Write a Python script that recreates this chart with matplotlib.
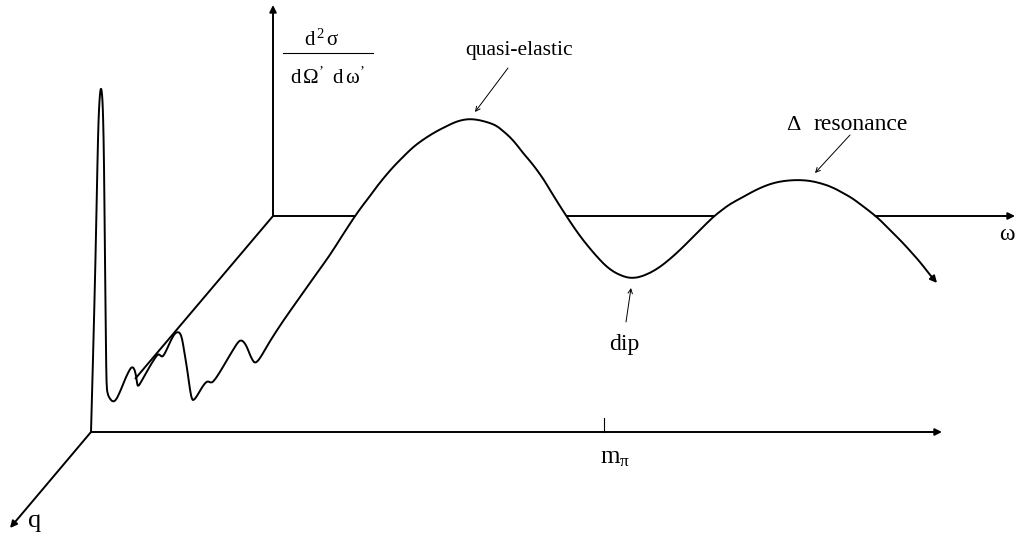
"""
Schematic inclusive electron scattering spectrum d2sigma/dOmega'dw' vs (omega, q)
"""

import numpy as np
import matplotlib.pyplot as plt
from matplotlib.path import Path
from matplotlib.patches import PathPatch

plt.rcParams['font.family'] = ['Liberation Serif', 'DejaVu Serif']
plt.rcParams['mathtext.fontset'] = 'custom'
plt.rcParams['mathtext.rm'] = 'Liberation Serif'
plt.rcParams['mathtext.it'] = 'Liberation Serif:italic'

# drawing units: x to the right, y downward (page-like)
W, H = 1018, 535

# front plane: origin of omega/q axes
FRONT_ORIGIN = (91, 432)
FRONT_OMEGA_TIP = (942, 432)
Q_TIP = (10, 528)

# back plane (curve baseline at larger q)
BACK_ORIGIN = (273, 216)
BACK_SIGMA_TIP = (273, 5)
BACK_OMEGA_TIP = (1015, 216)
FLOOR_START = (135, 379)

# m_pi tick on the front omega axis
M_PI_X = 604
M_PI_TICK = 14

# spectrum: elastic spike, nuclear levels, quasi-elastic, dip, Delta
SPECTRUM_X = [91, 93, 95.5, 97.5, 98.5, 99.5, 100.3, 101, 101.7, 102.5, 103.2,
              104, 105, 106, 106.5, 107.5, 110, 113, 116, 119, 122, 126, 130,
              132, 134, 136, 137, 138, 141, 145, 150, 155, 158, 160, 162, 164,
              167, 171, 175, 178, 180, 182, 184, 186, 188, 190, 192, 194, 197,
              201, 205, 208, 211, 214, 220, 227, 233, 238, 241, 244, 247, 250,
              253, 255, 258, 262,
              270, 283, 300, 317, 330, 342, 355, 363, 370, 378, 387, 395, 403,
              410, 417, 427, 437, 445, 453, 460, 468, 476, 483, 490, 497, 503,
              510, 517, 523, 530, 537, 544, 550, 558, 567, 575, 583, 592, 600,
              607, 614, 620, 627, 633, 640, 650, 660, 670, 680, 690, 700, 713,
              722, 730, 743, 752, 760, 770, 780, 790, 800, 810, 820, 832, 843,
              852, 860, 868, 878, 885, 893, 903, 912, 920, 927, 931]
SPECTRUM_Y = [432, 360, 260, 160, 120, 100, 91, 88, 91, 100, 120,
              160, 260, 350, 385, 394, 399, 402, 400, 394, 387, 377, 369,
              367, 368, 375, 383, 387, 382, 375, 366, 358, 354, 355, 357, 355,
              349, 340, 333, 332, 333, 338, 350, 362, 375, 390, 400, 400, 396,
              389, 383, 381, 383, 381, 372, 360, 350, 342, 340, 342, 347, 355,
              361, 363, 361, 355,
              341, 321, 297, 273, 255, 236, 216, 205, 196, 185, 174, 165, 157,
              150, 144, 137, 131, 127, 123, 120.5, 119, 119.5, 121, 123, 126, 131,
              137, 145, 153, 161, 170, 180, 190, 203, 217, 229, 240, 251, 260,
              267, 272, 275, 277.5, 278, 277, 273, 267, 259, 250, 240, 230, 217,
              210, 204, 197, 192, 188, 184, 181.5, 180.3, 180, 180.8, 183, 187, 193,
              198, 204, 210, 218, 225, 233, 243, 253, 262, 271, 276]
SPECTRUM_TIP = (937, 283)


def arrow(ax, start, tip, lw=1.4, scale=10, zorder=4):
    ax.annotate('', xy=tip, xytext=start,
                arrowprops=dict(arrowstyle='-|>', lw=lw, color='black',
                                mutation_scale=scale, shrinkA=0, shrinkB=0),
                zorder=zorder)


def pointer(ax, start, tip):
    ax.annotate('', xy=tip, xytext=start,
                arrowprops=dict(arrowstyle='->', lw=0.7, color='black',
                                mutation_scale=8, shrinkA=0, shrinkB=0),
                zorder=4)


def smooth_path(x, y):
    """Quadratic Bezier chain through the midpoints, points act as controls."""
    pts = np.column_stack([x, y])
    verts = [pts[0]]
    codes = [Path.MOVETO]
    for i in range(1, len(pts) - 1):
        verts += [pts[i], (pts[i] + pts[i + 1]) / 2]
        codes += [Path.CURVE3, Path.CURVE3]
    verts.append(pts[-1])
    codes.append(Path.LINETO)
    return Path(verts, codes)


def visible_baseline(x, y, x0, x1, level):
    """Pieces of the back baseline not hidden behind the curve."""
    below = y > level
    cuts = []
    for i in range(len(x) - 1):
        if x[i] >= x0 and below[i] != below[i + 1]:
            d0, d1 = y[i] - level, y[i + 1] - level
            cuts.append(x[i] + (x[i + 1] - x[i]) * d0 / (d0 - d1))
    edges = [x0] + cuts + [x1]
    pieces = []
    for a, b in zip(edges[:-1], edges[1:]):
        if np.interp((a + b) / 2, x, y) > level:
            pieces.append((a, b))
    return pieces


def main():
    fig = plt.figure(figsize=(W / 100, H / 100), dpi=100)
    ax = fig.add_axes([0, 0, 1, 1])
    ax.set_xlim(0, W)
    ax.set_ylim(H, 0)
    ax.axis('off')

    x = np.array(SPECTRUM_X, dtype=float)
    y = np.array(SPECTRUM_Y, dtype=float)
    level = BACK_ORIGIN[1]

    # front axes
    arrow(ax, FRONT_ORIGIN, FRONT_OMEGA_TIP)
    arrow(ax, FRONT_ORIGIN, Q_TIP)
    ax.plot([M_PI_X, M_PI_X], [FRONT_ORIGIN[1] - M_PI_TICK, FRONT_ORIGIN[1]],
            color='black', lw=0.8)

    # back plane: vertical axis and floor edge
    arrow(ax, BACK_ORIGIN, BACK_SIGMA_TIP)
    ax.plot([FLOOR_START[0], BACK_ORIGIN[0]], [FLOOR_START[1], BACK_ORIGIN[1]],
            color='black', lw=1.4, solid_capstyle='butt')

    # baseline, hidden wherever the curve rises above it
    pieces = visible_baseline(x, y, BACK_ORIGIN[0], BACK_OMEGA_TIP[0], level)
    for a, b in pieces[:-1]:
        ax.plot([a, b], [level, level], color='black', lw=1.4, solid_capstyle='butt')
    a, b = pieces[-1]
    arrow(ax, (a, level), (b, level))

    ax.add_patch(PathPatch(smooth_path(x, y), fill=False, lw=1.4,
                           edgecolor='black', joinstyle='round', zorder=6))
    arrow(ax, (x[-1], y[-1]), SPECTRUM_TIP, zorder=6)

    # labels
    ax.text(322, 40, r'$\mathregular{d^{\,2}\,σ}$', fontsize=15, ha='center', va='center')
    ax.plot([283, 373], [53, 53], color='black', lw=0.8)
    ax.text(327, 78, r'$\mathregular{d\,Ω^{’}\;\;d\,ω^{’}}$', fontsize=15,
            ha='center', va='center')

    ax.text(465, 55, 'quasi-elastic', fontsize=15.5, ha='left', va='baseline')
    pointer(ax, (508, 68), (475, 112))

    ax.text(786, 130, 'Δ', fontsize=16, ha='left', va='baseline')
    ax.text(814, 130, 'resonance', fontsize=17, ha='left', va='baseline')
    pointer(ax, (850, 135), (815, 173))

    ax.text(609, 350, 'dip', fontsize=17, ha='left', va='baseline')
    pointer(ax, (626, 322), (631, 288))

    ax.text(600, 463, r'$\mathregular{m_{π}}$', fontsize=18, ha='left', va='baseline')
    ax.text(1007, 235, 'ω', fontsize=17, ha='center', va='center')
    ax.text(28, 527, 'q', fontsize=19, ha='left', va='baseline')

    fig.savefig('out.png', dpi=100)
    plt.close(fig)


if __name__ == "__main__":
    main()
